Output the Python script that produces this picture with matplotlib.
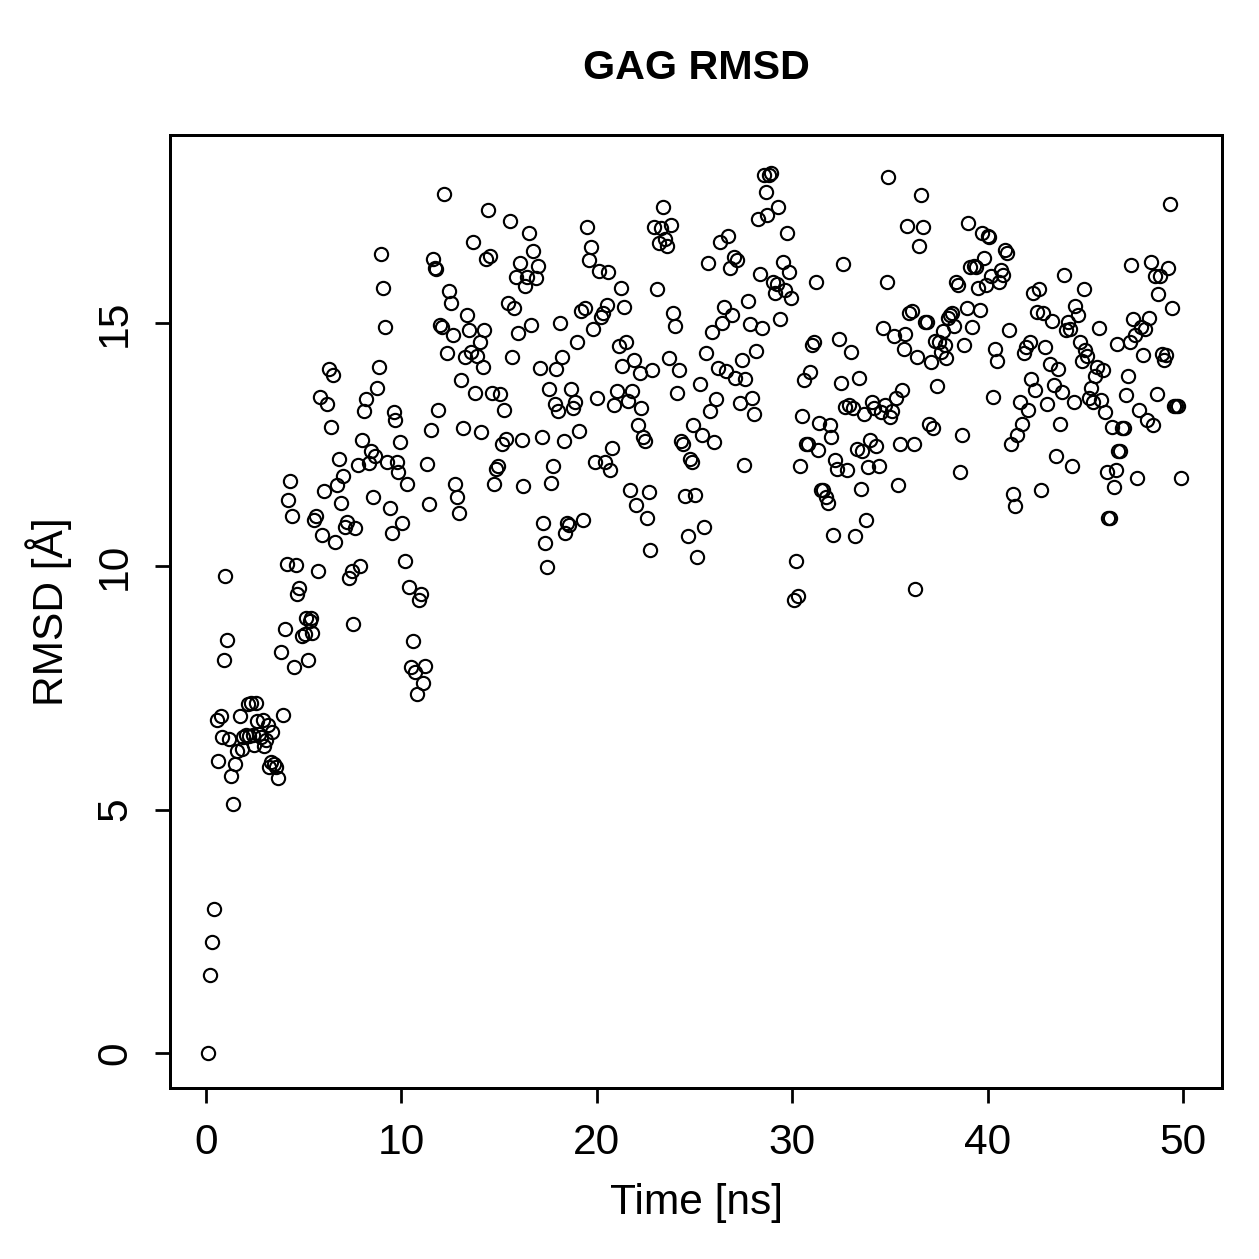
import matplotlib
matplotlib.use("Agg")
import matplotlib.pyplot as plt

title = "GAG RMSD"
xlabel = "Time [ns]"
ylabel = "RMSD [Å]"
xticks = [0, 10, 20, 30, 40, 50]
yticks = [0, 5, 10, 15]

# (time [ns], RMSD [Å])
time_a = [0.1, 0.2, 0.3, 0.4, 0.6, 0.55, 0.75, 0.8, 0.9, 1.0, 1.1, 1.2, 1.3, 1.4, 1.5, 1.6, 1.75, 1.85, 1.9, 2.05,
          2.15, 2.2, 2.3, 2.4, 2.45, 2.55, 2.6, 2.7, 2.8, 2.9, 2.95, 3.05, 3.15, 3.25, 3.35, 3.4, 3.5, 3.6, 3.7, 3.85,
          3.95, 4.05, 4.15, 4.2, 4.3, 4.4, 4.5, 4.6, 4.65, 4.75]
rmsd_a = [0.0, 1.6, 2.28, 2.96, 6.0, 6.84, 6.92, 6.5, 8.07, 9.8, 8.49, 6.45, 5.69, 5.12, 5.94, 6.2, 6.92, 6.24, 6.5, 6.53,
          7.17, 6.51, 7.2, 6.53, 6.33, 7.2, 6.82, 6.55, 6.49, 6.84, 6.31, 6.43, 6.74, 5.88, 5.98, 6.6, 5.94, 5.88, 5.65, 8.24,
          6.94, 8.71, 10.05, 11.36, 11.75, 11.03, 7.93, 10.03, 9.43, 9.55]

time_b = [4.9, 5.05, 5.1, 5.2, 5.3, 5.4, 5.45, 5.55, 5.65, 5.75, 5.85, 5.95, 6.05, 6.2, 6.3, 6.4, 6.5, 6.6, 6.7, 6.8,
          6.9, 7.0, 7.1, 7.2, 7.3, 7.45, 7.55, 7.65, 7.8, 7.9, 8.0, 8.1, 8.2, 8.35, 8.45, 8.55, 8.65, 8.75, 8.85, 8.95,
          9.05, 9.15, 9.25, 9.4, 9.5, 9.6, 9.7, 9.8, 9.85, 9.95, 10.05, 10.2, 10.3, 10.4, 10.5, 10.6, 10.7, 10.8, 10.9, 11.0,
          11.1, 11.2, 11.3, 11.4, 11.5, 11.6, 11.7, 11.75, 11.9, 12.0, 12.1, 12.2, 12.35, 12.45, 12.55, 12.65, 12.75, 12.85, 12.95, 13.05,
          13.15, 13.25, 13.35, 13.45, 13.55, 13.65, 13.75, 13.85, 14.0, 14.1, 14.2, 14.25, 14.35, 14.45, 14.55, 14.65, 14.75, 14.85, 14.95, 15.05]
rmsd_b = [8.57, 8.6, 8.94, 8.07, 8.88, 8.94, 8.63, 10.95, 11.03, 9.9, 13.48, 10.64, 11.55, 13.34, 14.05, 12.86, 13.93, 10.5, 11.67, 12.2,
          11.3, 11.86, 10.8, 10.91, 9.76, 9.9, 8.81, 10.79, 12.08, 10.0, 12.6, 13.19, 13.44, 12.12, 12.37, 11.42, 12.27, 13.66, 14.1, 16.42,
          15.72, 14.92, 12.14, 11.2, 10.69, 13.17, 13.0, 12.14, 11.94, 12.55, 10.89, 10.11, 11.69, 9.57, 7.93, 8.47, 7.83, 7.38, 9.31, 9.43,
          7.6, 7.95, 12.1, 11.28, 12.8, 16.31, 16.13, 16.1, 13.21, 14.96, 14.92, 17.65, 14.38, 15.66, 15.41, 14.75, 11.69, 11.42, 11.1, 13.83,
          12.84, 14.3, 15.16, 14.85, 14.4, 16.66, 13.56, 14.32, 14.61, 12.76, 14.1, 14.85, 16.31, 17.32, 16.38, 13.56, 11.69, 12.0, 12.06, 13.54]

time_c = [15.15, 15.25, 15.35, 15.45, 15.55, 15.65, 15.75, 15.85, 15.95, 16.05, 16.15, 16.25, 16.35, 16.45, 16.55, 16.65, 16.75, 16.9, 17.0, 17.1,
          17.2, 17.25, 17.35, 17.45, 17.55, 17.65, 17.75, 17.85, 17.9, 18.0, 18.1, 18.2, 18.3, 18.4, 18.5, 18.6, 18.7, 18.8, 18.9, 19.0,
          19.1, 19.2, 19.3, 19.4, 19.5, 19.6, 19.7, 19.8, 19.9, 20.0, 20.1, 20.2, 20.3, 20.4, 20.5, 20.6, 20.7, 20.8, 20.9, 21.05,
          21.15, 21.25, 21.3, 21.4, 21.5, 21.6, 21.7, 21.8, 21.9, 22.0, 22.1, 22.2, 22.25, 22.35, 22.45, 22.55, 22.65, 22.75, 22.85, 22.95,
          23.1, 23.2, 23.3, 23.4, 23.5, 23.6, 23.7, 23.8, 23.9, 24.0, 24.1, 24.2, 24.3, 24.4, 24.5, 24.65, 24.75, 24.85, 24.95, 25.05]
rmsd_c = [12.51, 13.21, 12.62, 15.41, 17.09, 14.3, 15.31, 15.95, 14.8, 16.23, 12.6, 11.65, 15.76, 15.95, 16.85, 14.96, 16.48, 15.93, 16.17, 14.08,
          12.66, 10.89, 10.48, 9.99, 13.64, 11.71, 12.06, 13.34, 14.05, 13.19, 15.0, 14.3, 12.57, 10.69, 10.89, 10.85, 13.64, 13.25, 13.38, 14.61,
          12.78, 15.25, 10.95, 15.31, 16.97, 16.29, 16.56, 14.88, 12.14, 13.46, 16.07, 15.12, 15.2, 12.14, 15.37, 16.05, 11.98, 12.43, 13.31, 13.6,
          14.53, 15.72, 14.12, 15.33, 14.61, 13.4, 11.57, 13.6, 14.24, 11.26, 12.9, 13.97, 13.25, 12.66, 12.57, 10.99, 11.53, 10.34, 14.03, 16.97,
          15.7, 16.64, 16.95, 17.38, 16.72, 16.58, 14.28, 17.01, 15.2, 14.94, 13.56, 14.03, 12.57, 12.51, 11.44, 10.62, 12.2, 12.14, 12.9, 11.46]

time_d = [25.15, 25.3, 25.4, 25.5, 25.6, 25.7, 25.8, 25.9, 26.0, 26.1, 26.2, 26.3, 26.4, 26.5, 26.6, 26.7, 26.8, 26.9, 27.0, 27.1,
          27.2, 27.35, 27.45, 27.55, 27.6, 27.75, 27.85, 27.95, 28.05, 28.15, 28.25, 28.35, 28.45, 28.55, 28.65, 28.7, 28.8, 28.9, 29.0, 29.1,
          29.2, 29.3, 29.4, 29.55, 29.65, 29.75, 29.85, 29.95, 30.1, 30.2, 30.3, 30.4, 30.5, 30.6, 30.7, 30.8, 30.9, 31.0, 31.1, 31.2,
          31.3, 31.4, 31.5, 31.6, 31.75, 31.85, 31.95, 32.0, 32.1, 32.2, 32.3, 32.4, 32.5, 32.6, 32.7, 32.8, 32.9, 33.0, 33.1, 33.2,
          33.3, 33.4, 33.5, 33.6, 33.7, 33.8, 33.9, 34.0, 34.1, 34.2, 34.3, 34.45, 34.55, 34.65, 34.75, 34.85, 34.9, 35.0, 35.1, 35.2]
rmsd_d = [10.2, 13.75, 12.7, 10.81, 14.38, 16.23, 13.19, 14.82, 12.55, 13.44, 14.08, 16.66, 15.0, 15.33, 14.01, 16.79, 16.13, 15.16, 16.36, 13.87,
          16.29, 13.36, 14.24, 12.08, 13.85, 15.45, 14.98, 13.46, 13.13, 14.42, 17.14, 16.01, 14.9, 18.04, 17.69, 17.22, 18.04, 18.08, 15.84, 15.62,
          15.8, 17.38, 15.08, 16.25, 15.68, 16.85, 16.05, 15.51, 9.31, 10.11, 9.39, 12.06, 13.09, 13.83, 12.51, 12.51, 13.99, 14.55, 14.61, 15.84,
          12.39, 12.94, 11.57, 11.57, 11.42, 11.3, 12.9, 12.66, 10.64, 12.18, 12.0, 14.67, 13.77, 16.21, 13.27, 11.98, 13.31, 14.4, 13.25, 10.62,
          12.41, 13.87, 11.59, 12.37, 13.13, 10.95, 12.04, 12.6, 13.38, 13.25, 12.47, 12.06, 13.17, 14.9, 13.31, 15.84, 18.0, 13.07, 13.19, 14.73]

time_e = [35.3, 35.4, 35.5, 35.6, 35.7, 35.8, 35.9, 36.0, 36.15, 36.25, 36.3, 36.4, 36.5, 36.6, 36.7, 36.8, 36.9, 37.0, 37.1, 37.2,
          37.3, 37.4, 37.5, 37.6, 37.7, 37.8, 37.9, 38.0, 38.1, 38.2, 38.3, 38.4, 38.5, 38.6, 38.7, 38.8, 38.95, 39.0, 39.1, 39.2,
          39.3, 39.4, 39.5, 39.6, 39.7, 39.8, 39.9, 40.0, 40.1, 40.2, 40.3, 40.4, 40.5, 40.6, 40.7, 40.8, 40.9, 41.0, 41.1, 41.2,
          41.3, 41.4, 41.5, 41.65, 41.75, 41.85, 41.95, 42.05, 42.15, 42.25, 42.35, 42.45, 42.55, 42.65, 42.75, 42.85, 42.95, 43.05, 43.2, 43.3,
          43.4, 43.5, 43.6, 43.7, 43.8, 43.9, 44.0, 44.1, 44.2, 44.3, 44.4, 44.5, 44.65, 44.75, 44.85, 44.95, 45.0, 45.1, 45.2, 45.3]
rmsd_e = [13.46, 11.67, 12.51, 13.62, 14.47, 14.78, 16.99, 15.2, 15.25, 12.51, 9.53, 14.3, 16.58, 17.63, 16.97, 15.02, 15.02, 12.92, 14.2, 12.84,
          14.63, 13.7, 14.61, 14.4, 14.84, 14.55, 14.28, 15.1, 15.16, 15.2, 14.94, 15.84, 15.78, 11.94, 12.7, 14.55, 15.31, 17.05, 16.15, 14.92,
          16.17, 16.15, 15.72, 15.27, 16.85, 16.34, 15.78, 16.79, 16.77, 15.97, 13.48, 14.46, 14.22, 15.84, 16.09, 15.99, 16.5, 16.44, 14.86, 12.51,
          11.48, 11.24, 12.7, 13.38, 12.92, 14.38, 14.51, 13.21, 14.61, 13.85, 15.62, 13.62, 15.23, 15.7, 11.57, 15.2, 14.51, 13.34, 14.16, 15.04,
          13.73, 12.27, 14.05, 12.92, 13.58, 15.99, 14.86, 15.02, 14.88, 12.06, 13.38, 15.35, 15.16, 14.61, 14.22, 15.7, 14.44, 14.32, 13.46, 13.66]

time_f = [45.4, 45.5, 45.6, 45.7, 45.8, 45.9, 46.0, 46.1, 46.15, 46.25, 46.35, 46.45, 46.55, 46.65, 46.7, 46.8, 46.9, 47.0, 47.1, 47.2,
          47.3, 47.35, 47.45, 47.55, 47.65, 47.75, 47.85, 47.95, 48.05, 48.15, 48.25, 48.35, 48.45, 48.55, 48.65, 48.75, 48.85, 48.95, 49.05, 49.15,
          49.25, 49.35, 49.45, 49.55, 49.65, 49.75, 49.9]
rmsd_f = [13.38, 13.91, 14.1, 14.9, 13.42, 14.03, 13.17, 11.94, 10.99, 10.99, 12.86, 11.63, 11.98, 14.57, 12.37, 12.37, 12.84, 12.84, 13.52, 13.91,
          14.61, 16.19, 15.08, 14.75, 11.81, 13.21, 14.92, 14.34, 14.88, 13.0, 15.1, 16.25, 12.9, 15.97, 13.54, 15.6, 15.97, 14.36, 14.24, 14.34,
          16.13, 17.44, 15.31, 13.29, 13.29, 13.29, 11.81]

time_ns = time_a + time_b + time_c + time_d + time_e + time_f
rmsd = rmsd_a + rmsd_b + rmsd_c + rmsd_d + rmsd_e + rmsd_f

plt.rcParams['font.family'] = ['Liberation Sans', 'DejaVu Sans']

fig = plt.figure(figsize=(1259 / 180, 1259 / 180), dpi=180)
ax = fig.add_axes([170 / 1259, 1 - 1088 / 1259, (1222 - 170) / 1259, (1088 - 135) / 1259])

ax.plot(time_ns, rmsd, linestyle='none', marker='o', markersize=5.3,
        markerfacecolor='none', markeredgecolor='black', markeredgewidth=0.85)

ax.set_xlim(-1.84, 52.0)
ax.set_ylim(-0.72, 18.86)
ax.set_xticks(xticks)
ax.set_yticks(yticks)
ax.set_xticklabels([str(v) for v in xticks], fontsize=17)
ax.set_yticklabels([str(v) for v in yticks], fontsize=17, rotation=90, va='center')
ax.tick_params(axis='both', direction='out', length=6, width=1.1, pad=8)

for s in ax.spines.values():
    s.set_linewidth(1.2)

ax.set_xlabel(xlabel, fontsize=17, labelpad=8)
ax.set_ylabel(ylabel, fontsize=17, labelpad=9)
fig.text(0.5 * (170 + 1222) / 1259, 1 - 68 / 1259, title, fontsize=16.5, fontweight='bold',
         ha='center', va='center')

fig.savefig("out.png", dpi=180)
